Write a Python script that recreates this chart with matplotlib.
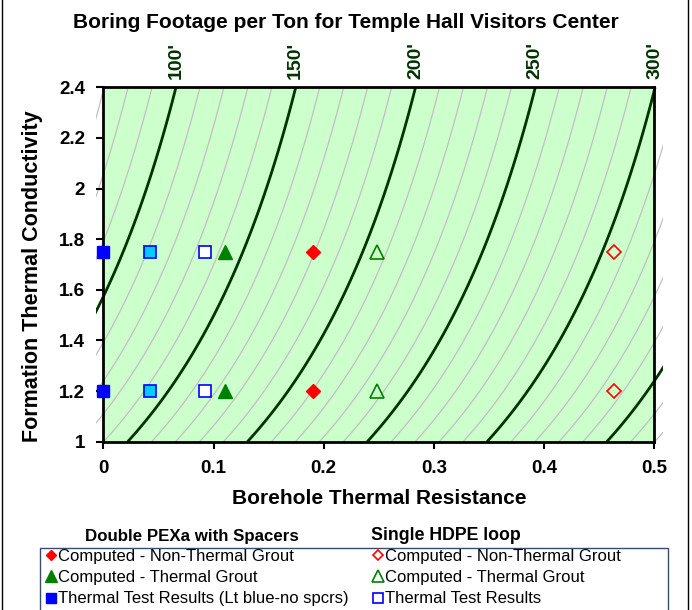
import numpy as np
import matplotlib.pyplot as plt
from matplotlib.patches import Rectangle

plt.rcParams['font.family'] = ['Liberation Sans', 'DejaVu Sans']

# ground-side resistance, vs formation conductivity
k_read = [1.0, 1.165, 1.254, 1.323, 1.398, 1.567, 1.678, 1.718, 2.0, 2.4]
rg_read = [0.301, 0.274, 0.261, 0.250, 0.242, 0.217, 0.204, 0.200, 0.176, 0.154]
ft_per_unit = 460.0   # boring feet per ton per unit of total resistance

major_levels = [100, 150, 200, 250, 300, 350]
label_levels = [100, 150, 200, 250, 300]
minor_levels = list(range(60, 400, 10))

# computed / measured borehole resistances at two conductivities
k_rows = [1.75, 1.2]
pexa_nontherm_rb = 0.190
pexa_therm_rb = 0.110
pexa_test_rb = 0.0
pexa_test_nospc_rb = 0.042
hdpe_nontherm_rb = 0.463
hdpe_therm_rb = 0.248
hdpe_test_rb = 0.092

xticks = [0, 0.1, 0.2, 0.3, 0.4, 0.5]
xticklabels = ['0', '0.1', '0.2', '0.3', '0.4', '0.5']
yticks = [1, 1.2, 1.4, 1.6, 1.8, 2, 2.2, 2.4]
yticklabels = ['1', '1.2', '1.4', '1.6', '1.8', '2', '2.2', '2.4']

W, H = 692, 610
fig = plt.figure(figsize=(W / 100, H / 100), dpi=100)
ax = fig.add_axes([103.3 / W, 1 - 441.7 / H, 551 / W, 354.4 / H])
ax.set_facecolor('#CCFFCC')

# footage field
coef = np.polyfit(np.log(k_read), rg_read, 2)
rg = lambda k: np.polyval(coef, np.log(k))
R = np.linspace(-0.03, 0.53, 500)
K = np.linspace(1.0, 2.4, 300)
RR, KK = np.meshgrid(R, K)
feet = ft_per_unit * (rg(KK) + RR)

clip = Rectangle((-0.007, 1.0), 0.515, 1.4, transform=ax.transData)
cs_minor = ax.contour(RR, KK, feet, levels=minor_levels, colors='#C0C0C0', linewidths=0.9, zorder=1)
cs_major = ax.contour(RR, KK, feet, levels=major_levels, colors='#003300', linewidths=2.0, zorder=2)
cs_minor.set_clip_path(clip)
cs_major.set_clip_path(clip)

for lev in label_levels:
    r_top = lev / ft_per_unit - rg(2.4)
    ax.annotate(f"{lev}'", xy=(r_top, 2.4), xytext=(0, 6), textcoords='offset points',
                rotation=90, ha='center', va='bottom', fontsize=14, fontweight='bold',
                color='#003300', annotation_clip=False)

mk = dict(linestyle='none', clip_on=False, zorder=5)
for k in k_rows:
    ax.plot([pexa_test_nospc_rb], [k], marker='s', ms=9, mfc='#00CCFF', mec='#0000FF', mew=1.2, **mk)
ax.plot([pexa_nontherm_rb] * 2, k_rows, marker='D', ms=7, mfc='#FF0000', mec='#FF0000',
        label='Computed - Non-Thermal Grout', **mk)
ax.plot([pexa_therm_rb] * 2, k_rows, marker='^', ms=10.5, mfc='#008000', mec='#008000',
        label='Computed - Thermal Grout', **mk)
ax.plot([pexa_test_rb] * 2, k_rows, marker='s', ms=9, mfc='#0000FF', mec='#0000FF',
        label='Thermal Test Results (Lt blue-no spcrs)', **mk)
ax.plot([hdpe_nontherm_rb] * 2, k_rows, marker='D', ms=7, mfc='none', mec='#FF0000', mew=1.2,
        label='Computed - Non-Thermal Grout', **mk)
ax.plot([hdpe_therm_rb] * 2, k_rows, marker='^', ms=10.5, mfc='none', mec='#008000', mew=1.2,
        label='Computed - Thermal Grout', **mk)
ax.plot([hdpe_test_rb] * 2, k_rows, marker='s', ms=9, mfc='white', mec='#0000FF', mew=1.2,
        label='Thermal Test Results', **mk)

ax.set_xlim(0, 0.5)
ax.set_ylim(1, 2.4)
ax.set_xticks(xticks)
ax.set_xticklabels(xticklabels, fontsize=13.5, fontweight='bold')
ax.set_yticks(yticks)
ax.set_yticklabels(yticklabels, fontsize=13.5, fontweight='bold')
ax.tick_params(direction='out', length=5, width=1.5, pad=8)
for s in ax.spines.values():
    s.set_linewidth(2.0)
    s.set_zorder(4)

ax.set_xlabel('Borehole Thermal Resistance', fontsize=15, fontweight='bold', labelpad=9)
ax.set_ylabel('Formation Thermal Conductivity', fontsize=15.5, fontweight='bold')
ax.yaxis.set_label_coords(-0.109, 0.468)
fig.text(346 / W, 1 - 22 / H, 'Boring Footage per Ton for Temple Hall Visitors Center',
         ha='center', va='center', fontsize=15, fontweight='bold')

# legend: two column headers over a shared box
fig.text(192 / W, 1 - 536 / H, 'Double PEXa with Spacers', ha='center', va='center',
         fontsize=12.2, fontweight='bold')
fig.text(446 / W, 1 - 536 / H, 'Single HDPE loop', ha='center', va='center',
         fontsize=12.8, fontweight='bold')
fig.patches.append(Rectangle((40 / W, -0.05), 628 / W, 0.05 + (610 - 548) / H,
                             transform=fig.transFigure, fill=False, ec='#3A4A6A', lw=1.0))
fig.patches.append(Rectangle((2 / W, -0.01), 686 / W, 1.02, transform=fig.transFigure,
                             fill=False, ec='black', lw=1.0))

handles = ax.get_lines()[2:]
for hs, x0 in ((handles[:3], 35), (handles[3:], 362)):
    fig.legend(handles=hs, loc='upper left', bbox_to_anchor=(x0 / W, 1 - 537 / H),
               frameon=False, fontsize=12, markerscale=0.8, handlelength=0.5,
               handletextpad=0.2, labelspacing=0.38, borderpad=0.2)

fig.savefig('out.png', dpi=100)
